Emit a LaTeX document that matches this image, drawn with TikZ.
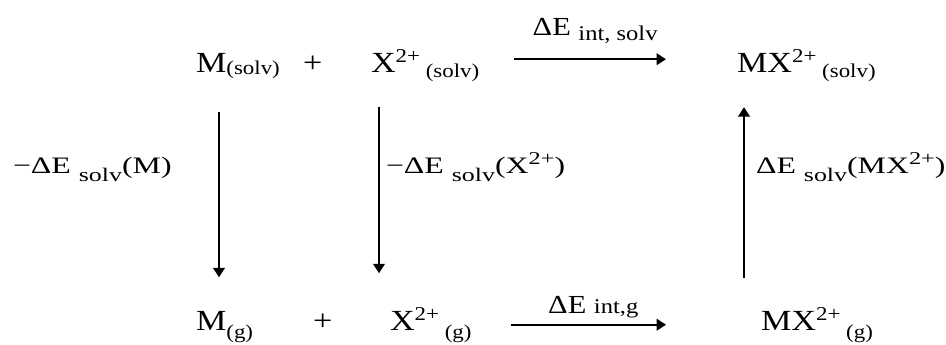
\documentclass[tikz,border=0pt]{standalone}
\usepackage{fontspec}
\setmainfont[FakeStretch=1.17]{Liberation Serif}
\newfontfamily\labfont[FakeStretch=1.35]{Liberation Serif}
\usetikzlibrary{arrows.meta}

% lowered / raised small text, Word style
\newcommand{\lowered}[2]{\raisebox{-#1}{\fontsize{9.8}{12}\selectfont #2}}
\newcommand{\raised}[1]{\raisebox{4.9pt}{\fontsize{9.8}{12}\selectfont #1}}
\newcommand{\labsub}[2]{\raisebox{-#1}{\fontsize{9.6}{11}\selectfont #2}}
\newcommand{\labsup}[1]{\raisebox{4.2pt}{\fontsize{9}{11}\selectfont #1}}
\newcommand{\arrsub}[2]{\raisebox{-#1}{\fontsize{10.5}{12}\selectfont #2}}

\begin{document}
\begin{tikzpicture}[x=0.5pt, y=-0.5pt, >={Triangle[length=4.7pt,width=5.8pt]}, line width=1pt,
    species/.style={anchor=base west, inner sep=0pt, font=\fontsize{14.6}{17.5}\selectfont},
    sidelabel/.style={anchor=base west, inner sep=0pt, font=\labfont\fontsize{11.8}{14}\selectfont},
    arrlabel/.style={inner sep=0pt, font=\fontsize{13}{16}\selectfont}]
  \useasboundingbox (0,0) rectangle (946,344);

  % solvated species
  \node[species] (Ms) at (195,72) {M\lowered{1pt}{(solv)}};
  \node[species] (plus1) at (302,72) {+};
  \node[species] (Xs) at (370,72) {X\raised{2+}\lowered{2.5pt}{ (solv)}};
  \node[species] (MXs) at (736,72) {MX\raised{2+}\lowered{2.5pt}{ (solv)}};

  % gas phase
  \node[species] (Mg) at (195,330) {M\lowered{4pt}{(g)}};
  \node[species] (plus2) at (312,330) {+};
  \node[species] (Xg) at (389,330) {X\raised{2+}\lowered{4pt}{ (g)}};
  \node[species] (MXg) at (760,330) {MX\raised{2+}\lowered{4pt}{ (g)}};

  % solvation energies
  \node[sidelabel] (EsM) at (12,173) {−ΔE \labsub{4pt}{solv}(M)};
  \node[sidelabel] (EsX) at (385,173) {−ΔE \labsub{4pt}{solv}(X\labsup{2+})};
  \node[sidelabel] (EsMX) at (755,173) {ΔE \labsub{4pt}{solv}(MX\labsup{2+})};

  % cycle
  \draw[->, shorten <=17pt, shorten >=35pt, transform canvas={yshift=3pt}] (Xs.east) -- (MXs.west)
    node[arrlabel, midway, above=7pt, xshift=-6.5pt] {ΔE \arrsub{2.5pt}{int, solv}};
  \draw[->, shorten <=19pt, shorten >=47pt] (Xg.east) -- (MXg.west)
    node[arrlabel, midway, above=3pt, xshift=-11.5pt] {ΔE \arrsub{0pt}{int,g}};
  \draw[->, shorten <=16.5pt, shorten >=16.3pt] ([xshift=12pt]Ms.south west) -- ([xshift=12pt]Ms.south west |- Mg.north);
  \draw[->, shorten <=12.5pt, shorten >=16.5pt] ([xshift=4.5pt]Xs.south west) -- ([xshift=4.5pt]Xs.south west |- Xg.north);
  \draw[->, shorten <=14pt, shorten >=12.5pt] ([xshift=4pt]MXs.south west |- MXg.north) -- ([xshift=4pt]MXs.south west);
\end{tikzpicture}
\end{document}
